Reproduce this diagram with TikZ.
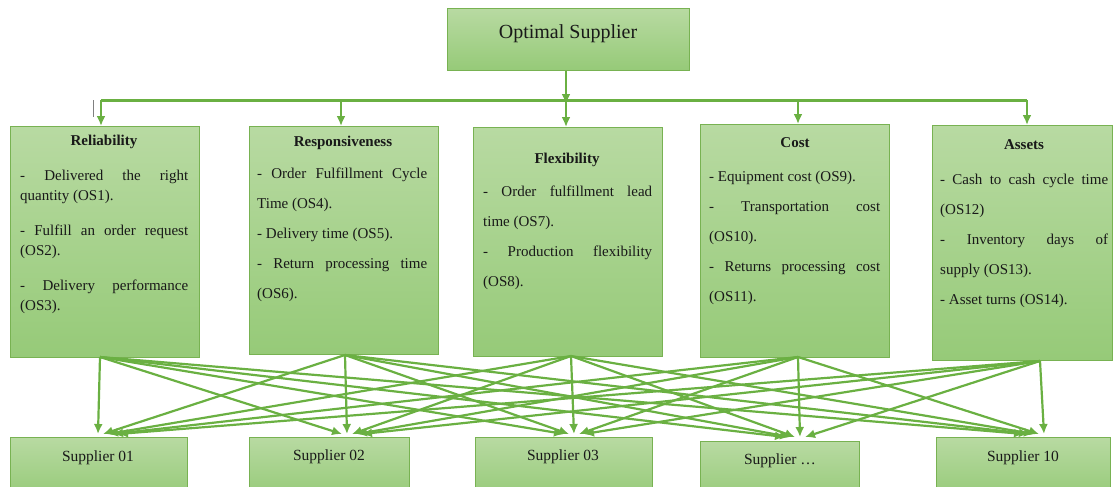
\documentclass[tikz,border=0pt]{standalone}
\usepackage{fontspec}
\setmainfont{Liberation Serif}
\usetikzlibrary{arrows.meta}
\definecolor{leaf}{RGB}{120,178,82}
\definecolor{leaftop}{RGB}{184,218,162}
\definecolor{leafbot}{RGB}{150,202,120}
\definecolor{link}{RGB}{106,176,66}

\begin{document}
\begin{tikzpicture}[x=1pt,y=-1pt,
      every node/.style={text=black!90},
      box/.style={draw=leaf,line width=0.8pt,top color=leaftop,bottom color=leafbot,
        anchor=north west,inner sep=0pt},
      head/.style={font=\fontsize{15}{18}\selectfont\bfseries},
      body/.style={font=\fontsize{15}{30}\selectfont,align=justify,
        anchor=north west,inner sep=0pt},
      supp/.style={font=\fontsize{15.5}{18}\selectfont},
      feed/.style={draw=link,line width=2pt,-{Latex[length=10pt,width=9pt]}},
      spread/.style={draw=link,line width=2.2pt,-{Latex[length=10pt,width=9pt]}}]
    \useasboundingbox (0,0) rectangle (1114,487);

    % goal
    \node[box,minimum width=242pt,minimum height=62pt] (goal) at (447,8) {};
    \node[font=\fontsize{20}{24}\selectfont] (goaltext) at (568,34) {Optimal Supplier};

    % criteria
    \node[box,minimum width=189pt,minimum height=231pt] (rel) at (10,126) {};
    \node[box,minimum width=189pt,minimum height=228pt] (res) at (249,126) {};
    \node[box,minimum width=189pt,minimum height=229pt] (fle) at (473,127) {};
    \node[box,minimum width=189pt,minimum height=233pt] (cos) at (700,124) {};
    \node[box,minimum width=180pt,minimum height=235pt] (ass) at (932,125) {};

    \node[head] (relhead) at (104,142) {Reliability};
    \node[head] (reshead) at (343,143) {Responsiveness};
    \node[head] (flehead) at (567,160) {Flexibility};
    \node[head] (coshead) at (795,143) {Cost};
    \node[head] (asshead) at (1024,145) {Assets};

    \node[body,text width=168pt,font=\fontsize{15}{20}\selectfont] (reltext) at (20,170)
      {\setlength{\parskip}{15pt}- Delivered the right\linebreak quantity (OS1).\par - Fulfill an order request (OS2).\par - Delivery performance (OS3).};
    \node[body,text width=170pt] (restext) at (257,168)
      {- Order Fulfillment Cycle Time (OS4).\par - Delivery time (OS5).\par - Return processing time (OS6).};
    \node[body,text width=169pt] (fletext) at (483,186)
      {- Order fulfillment lead\linebreak time (OS7).\par - Production flexibility (OS8).};
    \node[body,text width=171pt] (costext) at (709,171)
      {- Equipment cost (OS9).\par - Transportation cost (OS10).\par - Returns processing cost (OS11).};
    \node[body,text width=168pt] (asstext) at (940,174)
      {- Cash to cash cycle time (OS12)\par - Inventory days of\linebreak supply (OS13).\par - Asset turns (OS14).};

    % suppliers
    \node[box,minimum width=177pt,minimum height=60pt] (sup1) at (10,437) {};
    \node[box,minimum width=160pt,minimum height=60pt] (sup2) at (249,437) {};
    \node[box,minimum width=177pt,minimum height=60pt] (sup3) at (475,437) {};
    \node[box,minimum width=159pt,minimum height=60pt] (sup4) at (700,441) {};
    \node[box,minimum width=174pt,minimum height=60pt] (sup5) at (936,437) {};

    \node[supp] (sup1text) at (98,458) {Supplier 01};
    \node[supp] (sup2text) at (329,457) {Supplier 02};
    \node[supp] (sup3text) at (563,457) {Supplier 03};
    \node[supp] (sup4text) at (780,461) {Supplier \dots};
    \node[supp] (sup5text) at (1023,458) {Supplier 10};

    % bus from the goal to the criteria
    \coordinate (j1) at (101,100);
    \coordinate (j2) at (341,100);
    \coordinate (j3) at (566,100);
    \coordinate (j4) at (798,100);
    \coordinate (j5) at (1027,100);
    \draw[feed] (goal.south -| j3) -- ([yshift=-4pt]j3);
    \draw[draw=link,line width=3pt] (j1) -- (j5);
    \draw[feed] (j1) -- (j1 |- rel.north);
    \draw[feed] (j2) -- (j2 |- res.north);
    \draw[feed] (j3) -- (j3 |- fle.north);
    \draw[feed] (j4) -- (j4 |- cos.north);
    \draw[feed] (j5) -- (j5 |- ass.north);
    \draw[gray,line width=1pt] (93,100) -- (93,117);

    % every criterion to every supplier
    \foreach \i/\sx/\sy in {1/100/357,2/345/355,3/571/356,4/798/357,5/1040/361}
      \coordinate (src\i) at (\sx,\sy);
    \foreach \j/\dx/\dy in {1/98/434,2/347/434,3/574/434,4/800/437,5/1044/434}
      \coordinate (dst\j) at (\dx,\dy);
    \foreach \i in {1,...,5}
      \foreach \j in {1,...,5}
        \draw[spread] (src\i) -- ([xshift={(\i-\j)*5pt}]dst\j);
  \end{tikzpicture}
\end{document}
